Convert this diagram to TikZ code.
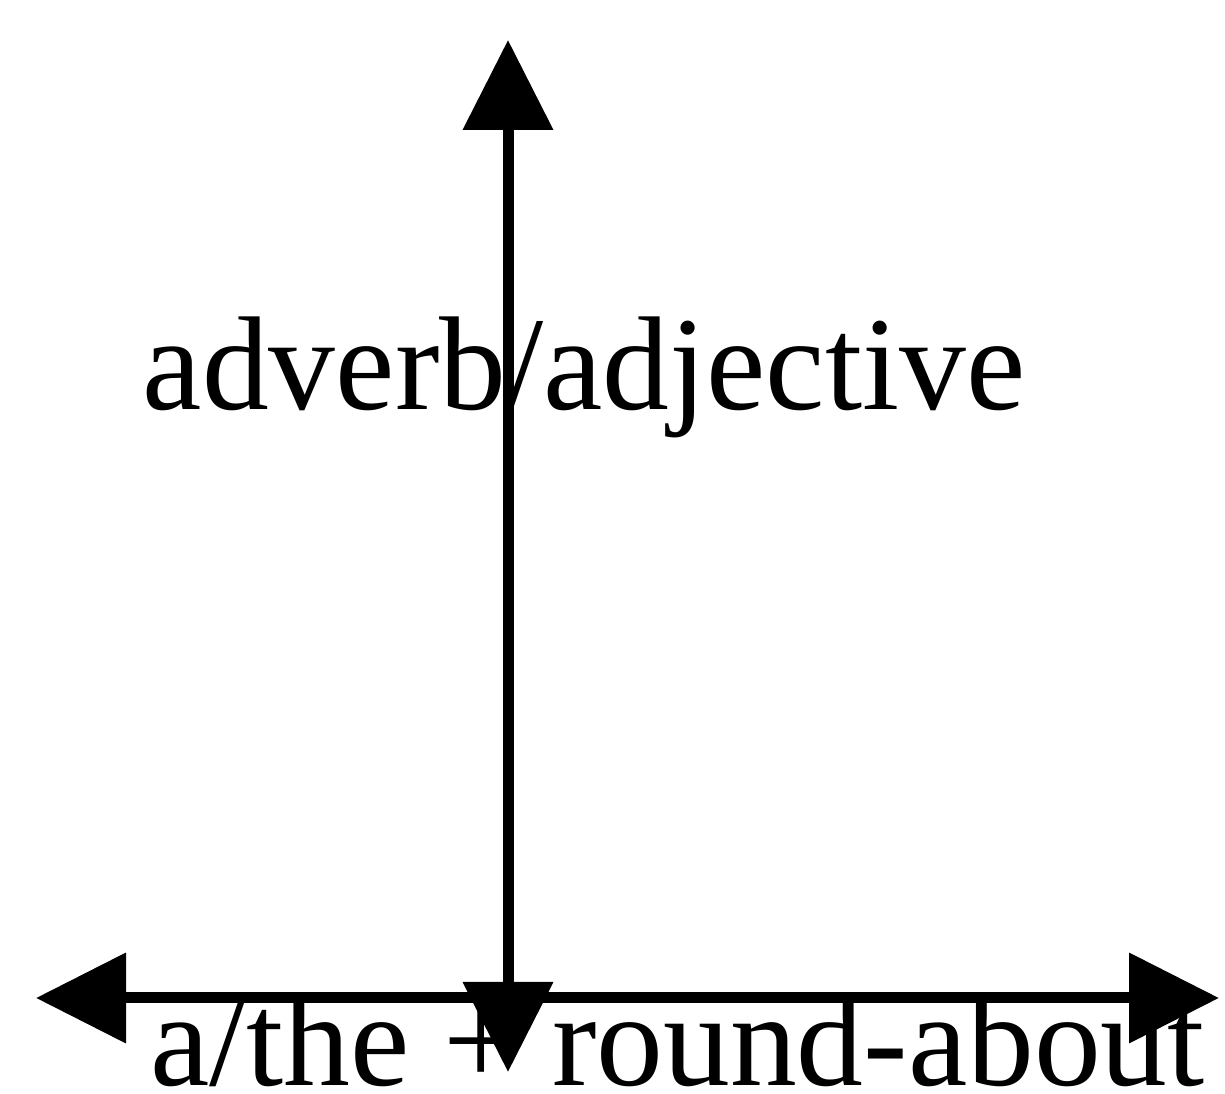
\documentclass[tikz,border=0pt]{standalone}
\usepackage{fontspec}
\setmainfont{Liberation Serif}
\usetikzlibrary{arrows.meta, positioning}

\begin{document}
\begin{tikzpicture}[
          axis/.style={{Triangle[length=1.8cm, width=1.76cm]}-{Triangle[length=1.8cm, width=1.76cm]}, line width=0.22cm, color=black},
          lbl/.style={inner sep=0pt, font=\fontsize{76}{80}\selectfont, text=black}
        ]
          \useasboundingbox (0,0) rectangle (24.5,21.88);
          \coordinate (top) at (10.16,21.08);
          \coordinate (bottom) at (10.16,0.44);
          \coordinate (left) at (0.72,1.92);
          \coordinate (right) at (24.38,1.92);
          \draw[axis] (bottom)--(top);
          \draw[axis] (left)--(right);
          \node[lbl, anchor=base west] (vlabel) at (2.85,13.68) {adverb/adjective};
          \node[lbl, anchor=base west] (hlabel) at (3.0,0.16) {a/the + round-about};
        \end{tikzpicture}
\end{document}
